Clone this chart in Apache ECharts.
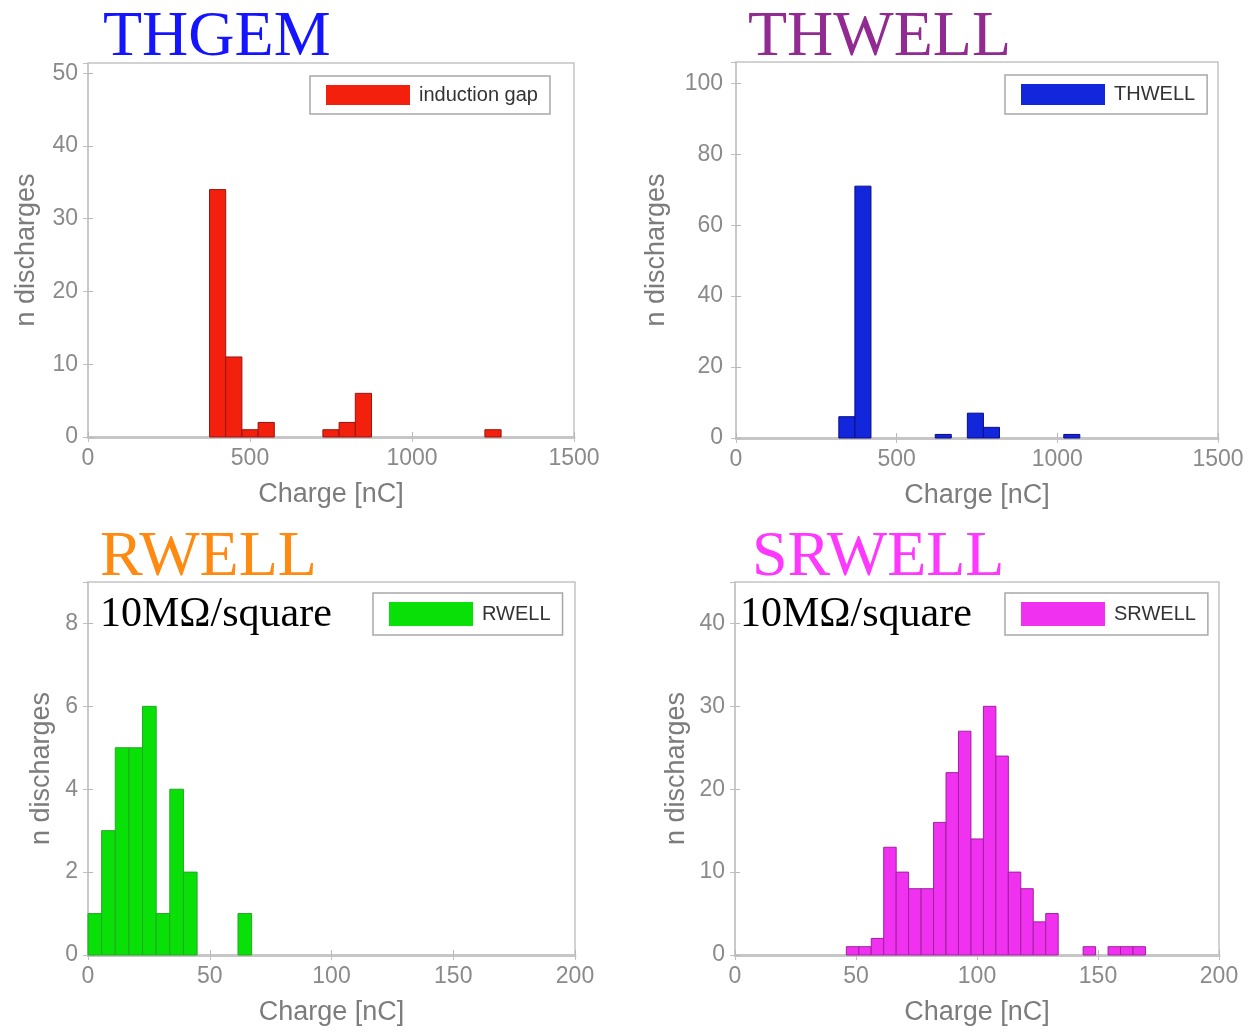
<!DOCTYPE html>
<html>
<head>
<meta charset="utf-8">
<script src="https://cdn.jsdelivr.net/npm/echarts@6/dist/echarts.min.js"></script>
<style>
html,body{margin:0;padding:0;background:#fff;}
#chart{width:1250px;height:1033px;}
</style>
</head>
<body>
<div id="chart"></div>
<script>
// ---------- DATA ----------
// THGEM (induction gap) histogram: bin left edges [nC], counts
const thgemBinLeft = [375, 425, 475, 525, 725, 775, 825, 1225];
const thgemCounts  = [34, 11, 1, 2, 1, 2, 6, 1];
const thgemBinWidth = 50;

// THWELL histogram
const thwellBinLeft = [320, 370, 620, 720, 770, 1020];
const thwellCounts  = [6, 71, 1, 7, 3, 1];
const thwellBinWidth = 50;

// RWELL histogram
const rwellBinLeft = [0, 5.6, 11.2, 16.8, 22.4, 28, 33.6, 39.2, 61.6];
const rwellCounts  = [1, 3, 5, 5, 6, 1, 4, 2, 1];
const rwellBinWidth = 5.6;

// SRWELL histogram
const srwellBinLeft = [46, 51.15, 56.3, 61.45, 66.6, 71.75, 76.9, 82.05, 87.2, 92.35, 97.5,
                       102.65, 107.8, 112.95, 118.1, 123.25, 128.4, 143.85, 154.15, 159.3, 164.45];
const srwellCounts  = [1, 1, 2, 13, 10, 8, 8, 16, 22, 27, 14, 30, 24, 10, 8, 4, 5, 1, 1, 1, 1];
const srwellBinWidth = 5.15;

// axis ticks
const xTicksTop = [0, 500, 1000, 1500];
const xTicksBottom = [0, 50, 100, 150, 200];
const yTicks = [[0, 10, 20, 30, 40, 50], [0, 20, 40, 60, 80, 100], [0, 2, 4, 6, 8], [0, 10, 20, 30, 40]];

const panelTitles = ['THGEM', 'THWELL', 'RWELL', 'SRWELL'];
const legendNames = ['induction gap', 'THWELL', 'RWELL', 'SRWELL'];
const subLabel = '10MΩ/square';
const xName = 'Charge [nC]';
const yName = 'n discharges';

// ---------- CHART ----------
const chart = echarts.init(document.getElementById('chart'), null, {renderer: 'canvas'});

const grids = [
  {left: 88, top: 63, width: 486, height: 374},
  {left: 736, top: 62, width: 482, height: 376},
  {left: 88, top: 582, width: 487, height: 373},
  {left: 735, top: 582, width: 484, height: 373}
];
const yMax = [51.4, 106, 9, 45];
const xTickSets = [xTicksTop, xTicksTop, xTicksBottom, xTicksBottom];
const yNameGap = [48, 66, 33, 45];
const yLabelMargin = [10, 13, 10, 10];

const labelFont = {color: '#8a8a8a', fontSize: 23, fontFamily: 'Liberation Sans'};
const nameFont = {color: '#7c7c7c', fontSize: 27, fontFamily: 'Liberation Sans'};
const plainNum = v => String(v);

const xAxes = [], yAxes = [];
for (let i = 0; i < 4; i++) {
  const xt = xTickSets[i];
  xAxes.push({
    type: 'value', gridIndex: i, min: xt[0], max: xt[xt.length - 1], interval: xt[1] - xt[0],
    name: xName, nameLocation: 'middle', nameGap: 44, nameTextStyle: nameFont,
    axisLine: {show: true, lineStyle: {color: '#c6c6c6', width: 3}},
    axisTick: {show: true, inside: true, length: 5, lineStyle: {color: '#b8b8b8'}},
    axisLabel: Object.assign({margin: 10, formatter: plainNum}, labelFont),
    splitLine: {show: false}
  });
  yAxes.push({
    type: 'value', gridIndex: i, min: 0, max: yMax[i], interval: yTicks[i][1] - yTicks[i][0],
    name: yName, nameLocation: 'middle', nameGap: yNameGap[i], nameRotate: 90, nameTextStyle: nameFont,
    axisLine: {show: true, lineStyle: {color: '#c6c6c6', width: 1.5}},
    axisTick: {show: true, inside: true, length: 5, lineStyle: {color: '#b8b8b8'}},
    axisLabel: Object.assign({margin: yLabelMargin[i], showMaxLabel: false, formatter: plainNum}, labelFont),
    splitLine: {show: false}
  });
}
// mirrored ticks on top / right edges
for (let i = 0; i < 4; i++) {
  const xt = xTickSets[i];
  xAxes.push({
    type: 'value', gridIndex: i, position: 'top', min: xt[0], max: xt[xt.length - 1], interval: xt[1] - xt[0],
    axisLine: {show: false}, axisLabel: {show: false}, splitLine: {show: false},
    axisTick: {show: true, inside: true, length: 5, lineStyle: {color: '#c0c0c0'}}
  });
  yAxes.push({
    type: 'value', gridIndex: i, position: 'right', min: 0, max: yMax[i], interval: yTicks[i][1] - yTicks[i][0],
    axisLine: {show: false}, axisLabel: {show: false}, splitLine: {show: false},
    axisTick: {show: true, inside: true, length: 5, lineStyle: {color: '#c0c0c0'}}
  });
}

function histSeries(name, idx, left, counts, width, fill, stroke) {
  return {
    type: 'custom', name: name, xAxisIndex: idx, yAxisIndex: idx,
    itemStyle: {color: fill},
    data: left.map((l, k) => [l, l + width, counts[k]]),
    encode: {x: [0, 1], y: 2},
    renderItem: function (params, api) {
      const p0 = api.coord([api.value(0), api.value(2)]);
      const p1 = api.coord([api.value(1), 0]);
      return {
        type: 'rect',
        shape: {x: p0[0], y: p0[1], width: p1[0] - p0[0], height: p1[1] - p0[1]},
        style: {fill: fill, stroke: stroke, lineWidth: 1}
      };
    }
  };
}

const series = [
  histSeries(legendNames[0], 0, thgemBinLeft, thgemCounts, thgemBinWidth, '#f2200c', '#9a1410'),
  histSeries(legendNames[1], 1, thwellBinLeft, thwellCounts, thwellBinWidth, '#1226dc', '#0c0c84'),
  histSeries(legendNames[2], 2, rwellBinLeft, rwellCounts, rwellBinWidth, '#08e008', '#22a822'),
  histSeries(legendNames[3], 3, srwellBinLeft, srwellCounts, srwellBinWidth, '#f032f0', '#a020a0')
];

const legendPos = [
  {left: 310, top: 76, h: 20},
  {left: 1005, top: 75, h: 21},
  {left: 373, top: 593, h: 24},
  {left: 1005, top: 593, h: 24}
];
const legends = legendPos.map((p, i) => ({
  data: [{name: legendNames[i], icon: 'rect'}],
  left: p.left, top: p.top, orient: 'horizontal',
  itemWidth: 84, itemHeight: p.h,
  padding: [9, 12, 9, 16],
  borderColor: '#a8a8a8', borderWidth: 1.5, backgroundColor: '#fff',
  selectedMode: false,
  textStyle: {color: '#333', fontSize: 20, fontFamily: 'Liberation Sans', padding: [0, 0, 0, 4]}
}));

const titleColors = ['#1414ff', '#912a91', '#ff8a12', '#ff38ff'];
const titlePos = [[103, 38], [748, 38], [100, 558], [752, 558]];
const graphics = panelTitles.map((t, i) => ({
  type: 'text', x: titlePos[i][0], y: titlePos[i][1], z: 100,
  style: {text: t, fill: titleColors[i], font: '64px "Liberation Serif"', align: 'left', verticalAlign: 'middle'}
}));
graphics.push({
  type: 'text', x: 100, y: 615, z: 100,
  style: {text: subLabel, fill: '#000', font: '42px "Liberation Serif"', align: 'left', verticalAlign: 'middle'}
});
graphics.push({
  type: 'text', x: 740, y: 615, z: 100,
  style: {text: subLabel, fill: '#000', font: '42px "Liberation Serif"', align: 'left', verticalAlign: 'middle'}
});

chart.setOption({
  animation: false,
  backgroundColor: '#fff',
  grid: grids.map(g => Object.assign({show: true, borderColor: '#c4c4c4', borderWidth: 1.5, containLabel: false}, g)),
  xAxis: xAxes,
  yAxis: yAxes,
  legend: legends,
  series: series,
  graphic: graphics
});
</script>
</body>
</html>
